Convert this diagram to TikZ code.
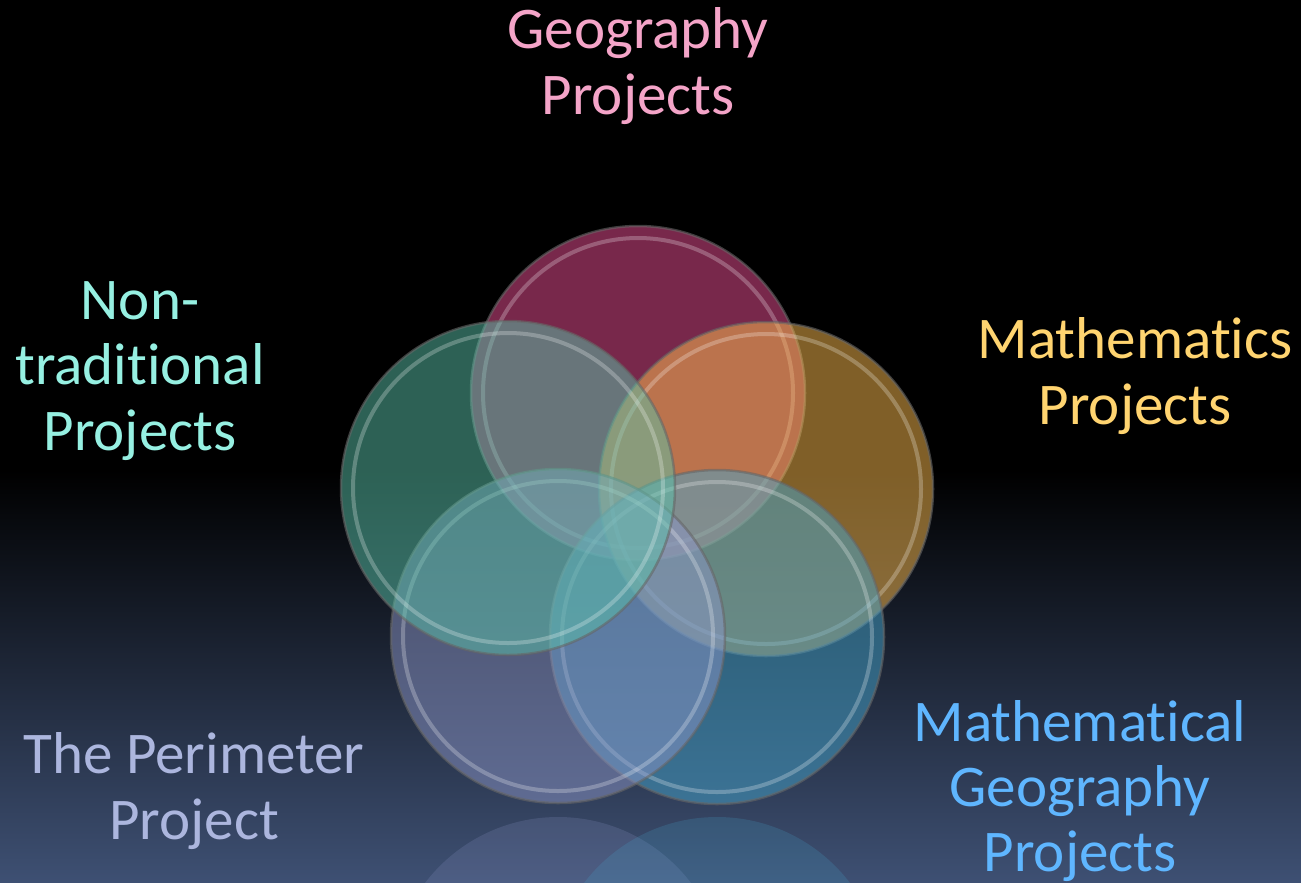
\documentclass[tikz,border=0pt]{standalone}
\usepackage{fontspec}
\setmainfont{Carlito}[Ligatures=CommonOff]
\usepackage{xcolor}
\usetikzlibrary{positioning}

\definecolor{bgbot}{RGB}{62,80,115}
\definecolor{geocol}{RGB}{240,80,150}
\definecolor{mathcol}{RGB}{255,190,80}
\definecolor{mgeocol}{RGB}{70,165,205}
\definecolor{perimcol}{RGB}{140,150,200}
\definecolor{nontradcol}{RGB}{90,195,170}
\definecolor{geotxt}{RGB}{244,164,200}
\definecolor{mathtxt}{RGB}{255,212,112}
\definecolor{mgeotxt}{RGB}{95,182,255}
\definecolor{perimtxt}{RGB}{172,182,222}
\definecolor{nontradtxt}{RGB}{150,240,226}

\begin{document}
\begin{tikzpicture}[x=0.1mm,y=-0.1mm,
	venn/.style={circle, minimum size=33.4mm, inner sep=0pt, fill opacity=0.5,
		draw=black!60, draw opacity=0.6, line width=0.25mm,
		path picture={\draw[white, opacity=0.25, line width=0.4mm]
			(path picture bounding box.center) circle (15.5mm);}},
	reflect/.style={circle, minimum size=33.4mm, inner sep=0pt, fill opacity=0.2},
	lbl/.style={align=center, inner sep=0pt, font=\fontsize{16.8}{18.6}\selectfont}]
	% background
	\useasboundingbox (0,0) rectangle (1301,882);
	\fill[black] (0,0) rectangle (1301,470);
	\shade[top color=black, bottom color=bgbot] (0,470) rectangle (1301,882);
	\clip (0,0) rectangle (1301,882);
	
	% reflections
	\node[reflect, fill=perimcol] (perimrefl) at (558,984) {};
	\node[reflect, fill=mgeocol] (mgeorefl) at (717,984) {};
	
	% circles
	\node[venn, fill=geocol] (geo) at (638,393) {};
	\node[venn, fill=mathcol] (math) at (766,489) {};
	\node[venn, fill=mgeocol] (mgeo) at (717,637) {};
	\node[venn, fill=perimcol] (perim) at (558,636) {};
	\node[venn, fill=nontradcol] (nontrad) at (508,488) {};
	
	% labels
	\node[lbl, text=geotxt] (geolbl) at (638,66) {Geography\\Projects};
	\node[lbl, text=mathtxt] (mathlbl) at (1135,376) {Mathemat\kern0pt ics\\Projects};
	\node[lbl, text=nontradtxt] (nontradlbl) at (140,371) {Non-\\tradit\kern0pt ional\\Projects};
	\node[lbl, text=perimtxt] (perimlbl) at (194,791) {The Perimeter\\Project};
	\node[lbl, text=mgeotxt] (mgeolbl) at (1080,791) {Mathemat\kern0pt ical\\Geography\\Projects};
\end{tikzpicture}
\end{document}
